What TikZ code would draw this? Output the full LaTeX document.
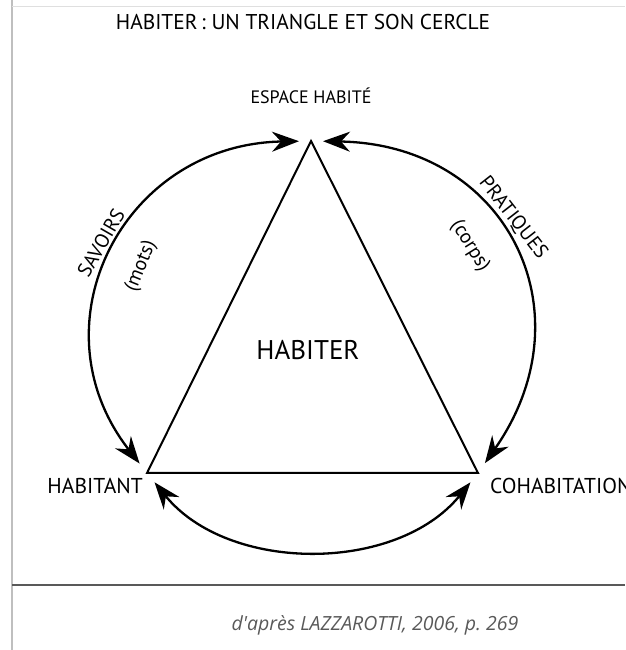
\documentclass[tikz,border=0pt]{standalone}
\usepackage{fontspec}
\setmainfont{PT Sans}
\newfontfamily\capfont{Open Sans}
\usetikzlibrary{arrows.meta,positioning}

\begin{document}
\begin{tikzpicture}[x=1pt, y=1pt,
    every node/.style={inner sep=0pt},
    cycleline/.style={line width=2.3pt, shorten <=12pt, shorten >=12pt,
        {Stealth[length=27pt,width=20pt,inset=9pt]}-{Stealth[length=27pt,width=20pt,inset=9pt]}},
    triline/.style={line width=2pt, line join=miter},
    poletext/.style={font=\fontsize{21.5}{21}\selectfont},
    arctext/.style={font=\fontsize{20}{20}\selectfont}]
    \useasboundingbox (0,0) rectangle (625,650);

    % Frame
    \draw[gray!50, line width=1.5pt] (12,0) -- (12,650);
    \draw[gray!25, line width=1pt] (12,643) -- (625,643);
    \draw[gray!70!black, line width=2pt] (12,65) -- (625,65);

    % Title and source
    \node (title) at (303,628) {\fontsize{21.4}{21}\selectfont HABITER\,: UN TRIANGLE ET SON CERCLE};
    \node[text=black!65] (source) at (375,25) {\capfont\itshape\fontsize{19.5}{19}\selectfont d'après LAZZAROTTI, 2006, p.\ 269};

    % Poles
    \coordinate (esp) at (311,509);
    \coordinate (hab) at (147,177);
    \coordinate (coh) at (478,177);

    \node[font=\fontsize{18}{18}\selectfont, above=37pt of esp] (esplabel) {ESPACE HABITÉ};
    \node[poletext, below left=5pt and 4pt of hab] (hablabel) {HABITANT};
    \node[poletext, below right=5pt and 12pt of coh] (cohlabel) {COHABITATION};
    \node[font=\fontsize{27}{27}\selectfont] (center) at (308,300) {HABITER};

    % Triangle
    \draw[triline] (esp) -- (hab) -- (coh) -- cycle;

    % Circle
    \draw[cycleline] (esp) to[out=181, in=128, looseness=1.3] (hab);
    \draw[cycleline] (esp) to[out=-1, in=55, looseness=1.35] (coh);
    \draw[cycleline] (hab) to[out=-51, in=-129, looseness=1.0] (coh);

    % Arc labels
    \node[arctext, rotate=60] (savoirs) at (101,407) {SAVOIRS};
    \node[arctext, rotate=68] (mots) at (141,384) {(mots)};
    \node[arctext, rotate=-52] (pratiques) at (513,432) {PRATIQUES};
    \node[arctext, rotate=-58] (corps) at (470,404) {(corps)};
\end{tikzpicture}
\end{document}
